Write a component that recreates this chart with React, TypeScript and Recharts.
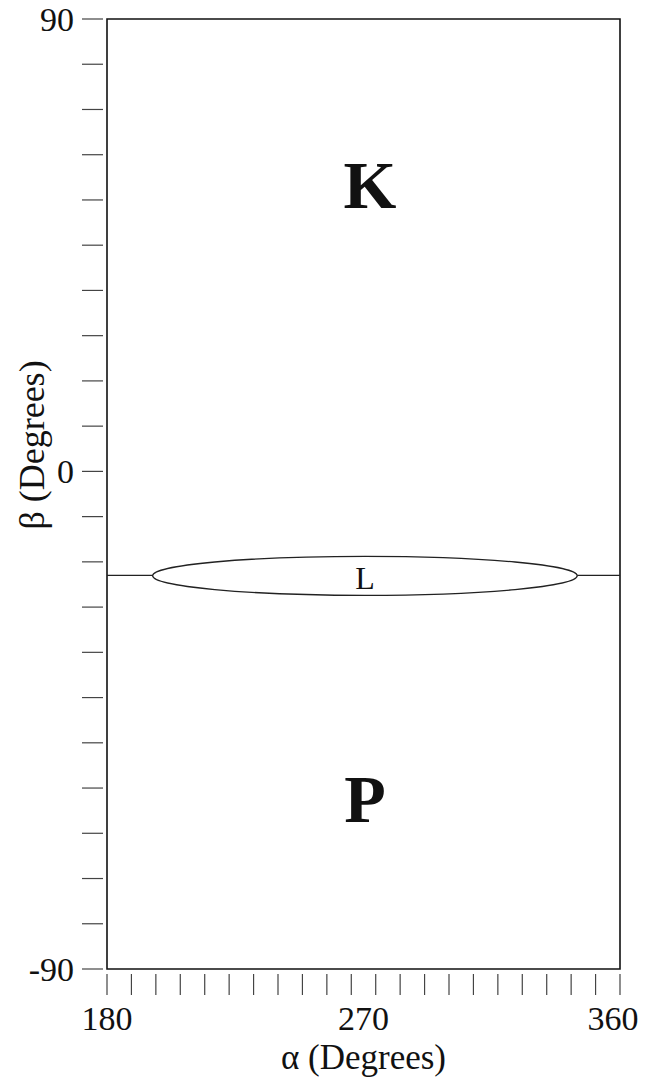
import React from 'react';
import {
  ComposedChart,
  XAxis,
  YAxis,
  Scatter,
  ReferenceArea,
  ReferenceLine,
} from 'recharts';

const serif = "'Liberation Serif', 'Times New Roman', serif";
const ink = '#111';

// axis ranges, both axes carry 21 evenly spaced minor ticks
const alphaDomain: [number, number] = [180, 360];
const betaDomain: [number, number] = [-90, 90];
const tickIntervals = 21;

const alphaLabels = [
  { value: 180, text: '180' },
  { value: 270, text: '270' },
  { value: 360, text: '360' },
];

// beta labels sit on minor tick steps counted from the top
const betaLabels = [
  { step: 0, text: '90' },
  { step: 10, text: '0' },
  { step: 21, text: '-90' },
];

// L boundary: a horizontal line that opens into a thin lens
const boundaryBeta = -15.4;
const boundaryAlpha = [
  [180, 196],
  [345, 360],
];
const lensAlpha = [196, 345];
const lensBeta = [-19.2, -11.8];

// region letters
const regionNames = ['K', 'L', 'P'];
const regionAlpha = [272.3, 270.5, 270.5];
const regionBeta = [58.5, -16.0, -57.8];

const regions = regionNames.map((name, i) => ({
  name,
  alpha: regionAlpha[i],
  beta: regionBeta[i],
}));

const alphaStep = (alphaDomain[1] - alphaDomain[0]) / tickIntervals;
const betaStep = (betaDomain[1] - betaDomain[0]) / tickIntervals;
const alphaMinor = Array.from(
  { length: tickIntervals + 1 },
  (_, i) => alphaDomain[0] + i * alphaStep
);
const alphaTicks = [...alphaMinor, ...alphaLabels.map((l) => l.value)]
  .filter((v, i, arr) => arr.findIndex((w) => Math.abs(w - v) < 1e-6) === i)
  .sort((a, b) => a - b);
const betaTicks = Array.from(
  { length: tickIntervals + 1 },
  (_, i) => betaDomain[1] - i * betaStep
);

const AlphaTick = (props: any) => {
  const { x, y, payload } = props;
  const v = payload.value;
  const minor = alphaMinor.some((t) => Math.abs(t - v) < 1e-6);
  const label = alphaLabels.find((l) => Math.abs(l.value - v) < 1e-6);
  // the last label is pulled in a little, as in the original
  const dx = Math.abs(v - alphaDomain[1]) < 1e-6 ? -7 : 0;
  return (
    <g>
      {minor && (
        <line x1={x} x2={x} y1={y + 5} y2={y + 26} stroke='#444' strokeWidth={1.2} />
      )}
      {label && (
        <text
          x={x + dx}
          y={y + 61}
          textAnchor='middle'
          fontSize={34}
          fontFamily={serif}
          fill={ink}
        >
          {label.text}
        </text>
      )}
    </g>
  );
};

const BetaTick = (props: any) => {
  const { x, y, payload } = props;
  const step = Math.round((betaDomain[1] - payload.value) / betaStep);
  const label = betaLabels.find((l) => l.step === step);
  return (
    <g>
      <line x1={x - 25} x2={x - 4} y1={y} y2={y} stroke='#444' strokeWidth={1.2} />
      {label && (
        <text
          x={x - 33}
          y={y}
          dy='0.35em'
          textAnchor='end'
          fontSize={34}
          fontFamily={serif}
          fill={ink}
        >
          {label.text}
        </text>
      )}
    </g>
  );
};

const RegionLetter = (props: any) => {
  const { cx, cy, payload } = props;
  const big = payload.name !== 'L';
  return (
    <text
      x={cx}
      y={cy}
      dy='0.34em'
      textAnchor='middle'
      fontFamily={serif}
      fontSize={big ? 68 : 32}
      fontWeight={big ? 700 : 400}
      fill={ink}
    >
      {payload.name}
    </text>
  );
};

const App: React.FC = () => {
  return (
    <div>
      <style>{'body{margin:0;overflow:hidden;background:#fff}'}</style>
      <ComposedChart
        width={646}
        height={1078}
        margin={{ top: 19, right: 26, left: 0, bottom: 0 }}
      >
        <XAxis
          type='number'
          dataKey='alpha'
          domain={alphaDomain}
          ticks={alphaTicks}
          interval={0}
          tickSize={0}
          tickMargin={0}
          tickLine={false}
          axisLine={false}
          height={109}
          tick={<AlphaTick />}
          label={{
            value: 'α (Degrees)',
            position: 'insideBottom',
            offset: 9,
            fontSize: 35,
            fontFamily: serif,
            fill: ink,
          }}
        />
        <YAxis
          type='number'
          dataKey='beta'
          domain={betaDomain}
          ticks={betaTicks}
          interval={0}
          tickSize={0}
          tickMargin={0}
          tickLine={false}
          axisLine={false}
          width={107}
          tick={<BetaTick />}
          label={(p: any) => {
            const vb = p.viewBox || { x: 0 };
            const cx = vb.x + 31;
            const cy = 445;
            return (
              <text
                x={cx}
                y={cy}
                dy='0.35em'
                transform={`rotate(-90 ${cx} ${cy})`}
                textAnchor='middle'
                fontSize={36}
                fontFamily={serif}
                fill={ink}
              >
                β (Degrees)
              </text>
            );
          }}
        />

        {/* plot frame */}
        <ReferenceArea
          x1={alphaDomain[0]}
          x2={alphaDomain[1]}
          y1={betaDomain[0]}
          y2={betaDomain[1]}
          fill='none'
          stroke={ink}
          strokeWidth={1.6}
        />

        {boundaryAlpha.map(([a1, a2], i) => (
          <ReferenceLine
            key={i}
            segment={[
              { x: a1, y: boundaryBeta },
              { x: a2, y: boundaryBeta },
            ]}
            stroke='#222'
            strokeWidth={1.3}
          />
        ))}

        <ReferenceArea
          x1={lensAlpha[0]}
          x2={lensAlpha[1]}
          y1={lensBeta[0]}
          y2={lensBeta[1]}
          shape={(p: any) => (
            <ellipse
              cx={p.x + p.width / 2}
              cy={p.y + p.height / 2}
              rx={p.width / 2}
              ry={p.height / 2}
              fill='none'
              stroke='#222'
              strokeWidth={1.3}
            />
          )}
        />

        <Scatter
          data={regions}
          dataKey='beta'
          isAnimationActive={false}
          shape={<RegionLetter />}
        />
      </ComposedChart>
    </div>
  );
};

export default App;
